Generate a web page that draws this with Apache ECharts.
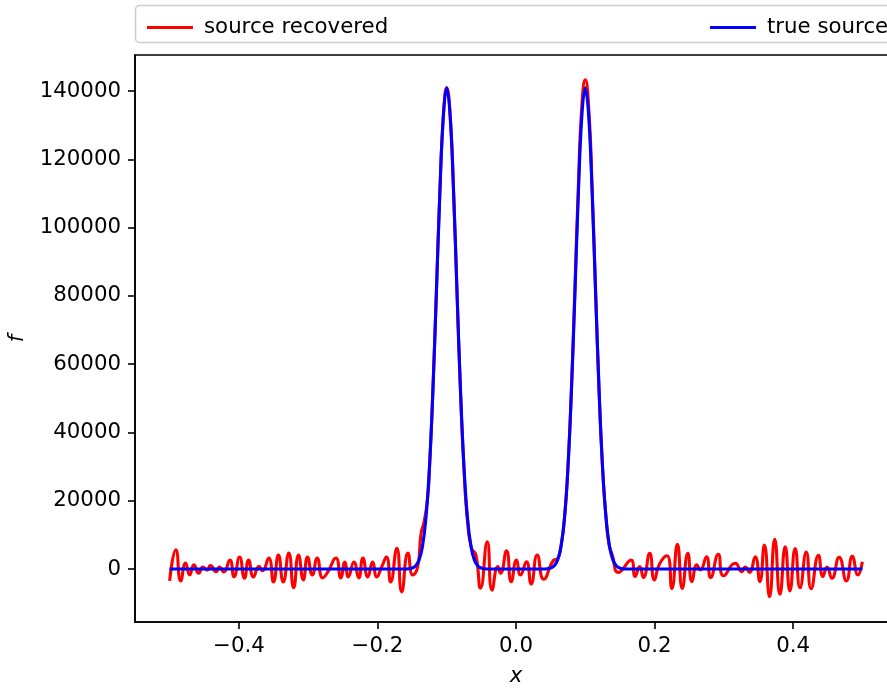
<!DOCTYPE html>
<html>
<head>
<meta charset="utf-8">
<script src="https://cdn.jsdelivr.net/npm/echarts@6/dist/echarts.min.js"></script>
<style>
  html, body { margin: 0; padding: 0; background: #fff; }
  #chart { width: 887px; height: 689px; }
</style>
</head>
<body>
<div id="chart"></div>
<script>
// recovered source (red), peaks and troughs
var recoveredX = [
  -0.5, -0.491, -0.484, -0.477, -0.471, -0.465, -0.458, -0.452, -0.446, -0.441,
  -0.433, -0.428, -0.422, -0.413, -0.407, -0.399, -0.392, -0.386, -0.379, -0.371,
  -0.366, -0.357, -0.350, -0.343, -0.336, -0.328, -0.321, -0.314, -0.307, -0.301,
  -0.294, -0.287, -0.279, -0.272, -0.260, -0.253, -0.247, -0.242, -0.234, -0.227,
  -0.221, -0.214, -0.207, -0.201, -0.194, -0.187, -0.181, -0.172, -0.165, -0.156,
  -0.149, -0.142, -0.137, -0.133, -0.128, -0.125, -0.12, -0.115, -0.11, -0.105,
  -0.1, -0.095, -0.09, -0.085, -0.08, -0.075, -0.07, -0.064, -0.058, -0.0512,
  -0.0415, -0.0346, -0.0262, -0.0224, -0.0137, -0.0069, 0.0007, 0.0065, 0.0151, 0.0219,
  0.0306, 0.0401, 0.0545, 0.06, 0.065, 0.07, 0.075, 0.08, 0.085, 0.09,
  0.095, 0.1, 0.105, 0.11, 0.115, 0.12, 0.125, 0.13, 0.134, 0.139,
  0.148, 0.166, 0.172, 0.1785, 0.184, 0.193, 0.1997, 0.207, 0.218, 0.225,
  0.233, 0.240, 0.248, 0.254, 0.261, 0.266, 0.275, 0.281, 0.292, 0.2996,
  0.3165, 0.326, 0.331, 0.337, 0.3453, 0.352, 0.3586, 0.366, 0.3735, 0.381,
  0.3886, 0.3954, 0.403, 0.410, 0.419, 0.426, 0.4366, 0.443, 0.449, 0.456,
  0.4665, 0.477, 0.4855, 0.4936, 0.5
];
var recoveredY = [
  -3500, 5600, -3500, 1750, -1750, 1200, -1200, 600, -300, 1000,
  -800, 600, -900, 2600, -2300, 3500, -2700, 2600, -2300, 800,
  -500, 3200, -3800, 4100, -3800, 4700, -5500, 4100, -3200, 3500,
  -1750, 3200, -2600, -1000, 3200, -2600, 2000, -2300, 2000, -2600,
  3200, -2300, 2000, -2300, 600, 3500, -3800, 6100, -6700, 4700,
  -1750, 600, 10500, 13500, 20000, 29000, 52500, 81000, 110000, 132000,
  141000, 133000, 110000, 80000, 51000, 29000, 14000, 6000, 4200, -5600,
  8000, -6200, 700, -1200, 5300, -3700, 2600, -1750, 2100, -4400,
  4100, -3000, 2600, 3000, 6800, 15000, 30000, 53000, 82000, 112000,
  135500, 143300, 135000, 111000, 81000, 52000, 29500, 15000, 7500, 4100,
  -1000, 2600, -2200, 700, -2500, 4600, -3200, 1400, 3900, -5700,
  7200, -5700, 4600, -3700, 1200, -300, 3600, -2500, 4300, -2000,
  1700, -800, 600, -1000, 3600, -3700, 7000, -8100, 8700, -7400,
  6500, -6400, 6000, -5500, 5000, -5800, 4000, -2200, 600, -2700,
  3400, -3500, 3700, -1750, 2100
];

// true source (blue)
var trueX = [
  -0.5, -0.16, -0.155, -0.15, -0.145, -0.14, -0.135, -0.13, -0.125, -0.12,
  -0.115, -0.11, -0.105, -0.1, -0.095, -0.09, -0.085, -0.08, -0.075, -0.07,
  -0.065, -0.06, -0.055, -0.05, -0.045, -0.04,
  0.04, 0.045, 0.05, 0.055, 0.06, 0.065, 0.07, 0.075, 0.08, 0.085,
  0.09, 0.095, 0.1, 0.105, 0.11, 0.115, 0.12, 0.125, 0.13, 0.135,
  0.14, 0.145, 0.15, 0.155, 0.16, 0.5
];
var trueY = [
  0, 0, 70, 270, 900, 2600, 6600, 14900, 29600, 51900,
  80300, 109800, 132500, 141000, 132500, 109800, 80300, 51900, 29600, 14900,
  6600, 2600, 900, 270, 70, 0,
  0, 70, 270, 900, 2600, 6600, 14900, 29600, 51900, 80300,
  109800, 132500, 141000, 132500, 109800, 80300, 51900, 29600, 14900, 6600,
  2600, 900, 270, 70, 0, 0
];

var xTicks = [-0.4, -0.2, 0.0, 0.2, 0.4];
var yTicks = [0, 20000, 40000, 60000, 80000, 100000, 120000, 140000];

function pairs(xs, ys) {
  var out = [];
  for (var i = 0; i < xs.length; i++) out.push([xs[i], ys[i]]);
  return out;
}

var FONT = 'DejaVu Sans';
var chart = echarts.init(document.getElementById('chart'), null, {renderer: 'canvas'});

var option = {
  animation: false,
  backgroundColor: '#ffffff',
  textStyle: {fontFamily: FONT},
  grid: {
    left: 135, top: 55, bottom: 67, right: -10,
    containLabel: false, outerBoundsMode: 'none',
    show: true, borderColor: '#000', borderWidth: 1.6, backgroundColor: 'transparent'
  },
  graphic: [{
    type: 'rect',
    shape: {x: 135.5, y: 5.5, width: 800, height: 37, r: 4},
    style: {fill: '#fff', stroke: '#cccccc', lineWidth: 1.5},
    z: -1
  }],
  legend: [{
    data: ['source recovered'],
    left: 142, top: 12,
    icon: 'rect', itemWidth: 46, itemHeight: 3,
    textStyle: {fontFamily: FONT, fontSize: 21.3, color: '#000', padding: [0, 0, 0, 6]}
  }, {
    data: ['true source'],
    left: 705, top: 12,
    icon: 'rect', itemWidth: 46, itemHeight: 3,
    textStyle: {fontFamily: FONT, fontSize: 21.3, color: '#000', padding: [0, 0, 0, 6]}
  }],
  xAxis: {
    type: 'value', min: -0.55, max: 0.55,
    name: 'x', nameLocation: 'middle', nameGap: 44,
    nameTextStyle: {fontFamily: FONT, fontStyle: 'italic', fontSize: 21.3, color: '#000'},
    splitLine: {show: false},
    axisLine: {onZero: false, lineStyle: {color: '#000', width: 1.6}},
    axisTick: {show: true, length: 7, lineStyle: {color: '#000', width: 1.6}, customValues: xTicks},
    axisLabel: {
      margin: 14, fontSize: 21.3, color: '#000', fontFamily: FONT,
      customValues: xTicks,
      formatter: function (v) { var s = Math.abs(v).toFixed(1); return v < -1e-9 ? '\u2212' + s : s; }
    }
  },
  yAxis: {
    type: 'value', min: -15530, max: 150600,
    name: 'f', nameLocation: 'middle', nameGap: 107, nameRotate: 90,
    nameTextStyle: {fontFamily: FONT, fontStyle: 'italic', fontSize: 21.3, color: '#000'},
    splitLine: {show: false},
    axisLine: {show: true, onZero: false, lineStyle: {color: '#000', width: 1.6}},
    axisTick: {show: true, length: 7, lineStyle: {color: '#000', width: 1.6}, customValues: yTicks},
    axisLabel: {
      margin: 14, fontSize: 21.3, color: '#000', fontFamily: FONT,
      customValues: yTicks,
      formatter: function (v) { return String(v); }
    }
  },
  series: [{
    name: 'source recovered',
    type: 'line',
    data: pairs(recoveredX, recoveredY),
    showSymbol: false,
    smooth: 0.55,
    itemStyle: {color: '#ff0000'},
    lineStyle: {color: '#ff0000', width: 3.1}
  }, {
    name: 'true source',
    type: 'line',
    data: pairs(trueX, trueY),
    showSymbol: false,
    smooth: 0.4,
    itemStyle: {color: '#0000ff'},
    lineStyle: {color: '#0000ff', width: 3.1}
  }]
};

chart.setOption(option);
</script>
</body>
</html>
